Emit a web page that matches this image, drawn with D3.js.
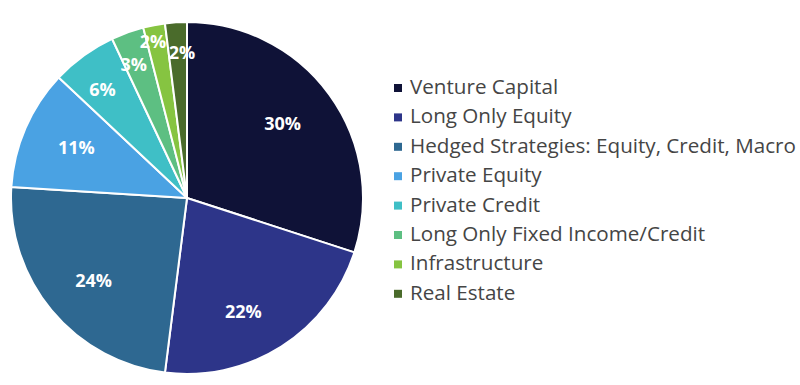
<!DOCTYPE html>
<html>
<head>
<meta charset="utf-8">
<script src="https://cdn.jsdelivr.net/npm/d3@7"></script>
<style>
  body { margin: 0; background: #fff; }
  svg { display: block; }
</style>
</head>
<body>
<svg id="chart" width="800" height="385"></svg>
<script>
// DATA
var categories = ["Venture Capital", "Long Only Equity", "Hedged Strategies: Equity, Credit, Macro",
                  "Private Equity", "Private Credit", "Long Only Fixed Income/Credit",
                  "Infrastructure", "Real Estate"];
var shares = [30, 22, 24, 11, 6, 3, 2, 2];
var colors = ["#0f1237", "#2d3589", "#2e6891", "#4aa2e3", "#3fbfc6", "#5dbf82", "#86c441", "#4a6b2b"];

// label placement: distance from centre (fraction of radius) and angle nudge (degrees)
var labelPos = [0.69, 0.72, 0.71, 0.69, 0.78, 0.815, 0.91, 0.825];
var labelTurn = [-2, 6, -2, 1, -2, -2, -1.5, 1.6];

var svg = d3.select("#chart");
var cx = 187, cy = 198, R = 176;

var data = categories.map(function(c, i) {
    return {name: c, value: shares[i], color: colors[i], lp: labelPos[i], lt: labelTurn[i]};
});

var pie = d3.pie().sort(null).value(function(d) { return d.value; });
var arc = d3.arc().innerRadius(0).outerRadius(R);

var g = svg.append("g").attr("transform", "translate(" + cx + "," + cy + ")");

var arcs = pie(data);

g.selectAll("path.slice")
  .data(arcs)
  .enter().append("path")
  .attr("class", "slice")
  .attr("d", arc)
  .style("fill", function(d) { return d.data.color; })
  .style("stroke", "#fff")
  .attr("stroke-width", 2)
  .attr("stroke-linejoin", "round");

// PERCENT LABELS
g.selectAll("text.pct")
  .data(arcs)
  .enter().append("text")
  .attr("class", "pct")
  .attr("transform", function(d) {
      var r = R * d.data.lp;
      var a = (d.startAngle + d.endAngle) / 2 + d.data.lt * Math.PI / 180;
      return "translate(" + (r * Math.sin(a)) + "," + (-r * Math.cos(a)) + ")";
  })
  .attr("text-anchor", "middle")
  .attr("dy", "0.36em")
  .style("font-family", "'Open Sans', sans-serif")
  .style("font-weight", "bold")
  .style("font-size", "18px")
  .style("fill", "#fff")
  .text(function(d) { return d.data.value + "%"; });

// LEGEND
var legend = svg.append("g").attr("transform", "translate(394, 88)");
var rowH = 29.4;

var item = legend.selectAll("g.item")
  .data(data)
  .enter().append("g")
  .attr("class", "item")
  .attr("transform", function(d, i) { return "translate(0," + (i * rowH) + ")"; });

item.append("rect")
  .attr("x", 0).attr("y", -4)
  .attr("width", 8).attr("height", 8)
  .style("fill", function(d) { return d.color; });

var labels = item.append("text")
  .attr("x", 16).attr("y", 6)
  .style("font-family", "'Open Sans', sans-serif")
  .style("font-size", "19px")
  .style("fill", "#454545")
  .text(function(d) { return d.name; });

// fit the longest legend entry to the width seen in the original
var longest = d3.max(labels.nodes(), function(n) { return n.getComputedTextLength(); });
var fs = 19 * 386 / longest;
labels.style("font-size", fs.toFixed(2) + "px");
</script>
</body>
</html>
